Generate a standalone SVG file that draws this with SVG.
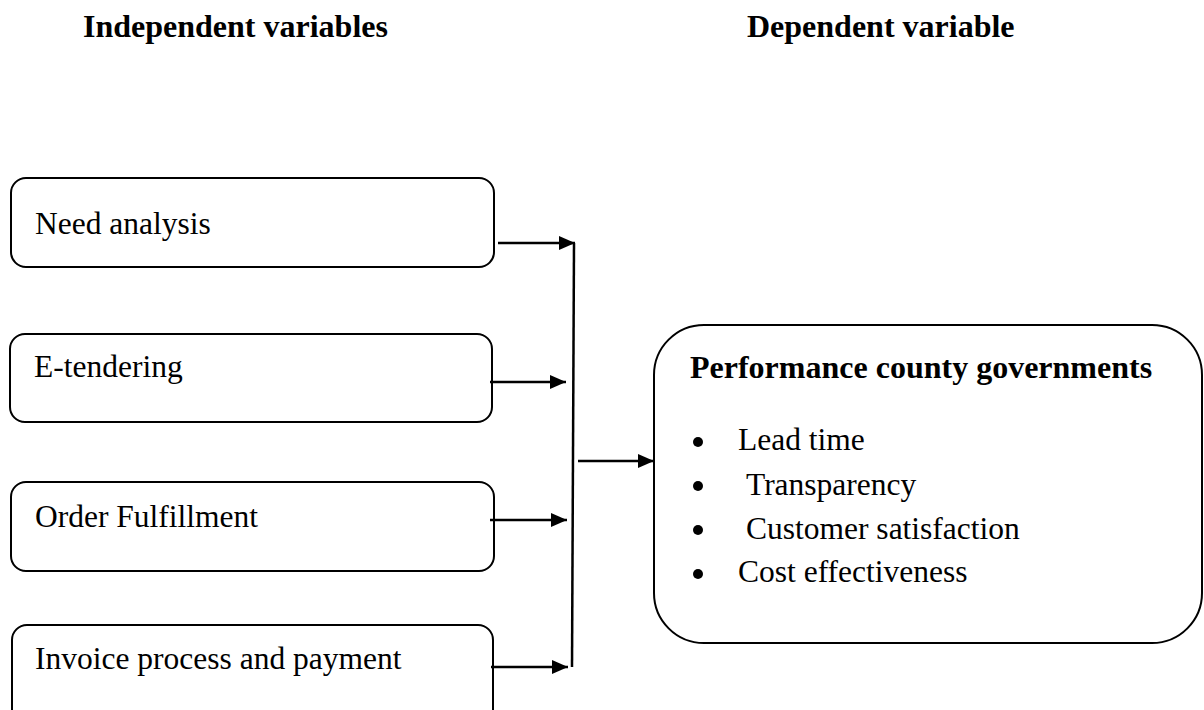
<svg xmlns="http://www.w3.org/2000/svg" width="1204" height="710" viewBox="0 0 1204 710">
<defs>
<style>
.box{fill:#fff;stroke:#000;stroke-width:2}
.t{font-family:"Liberation Serif","Times New Roman",serif;font-size:31.5px;fill:#000}
.b{font-family:"Liberation Serif","Times New Roman",serif;font-size:32px;font-weight:bold;fill:#000}
.c{stroke:#000;stroke-width:2.5;fill:none}
</style>
<marker id="ah" viewBox="0 0 16 14" refX="16" refY="7" markerWidth="16" markerHeight="14" markerUnits="userSpaceOnUse" orient="auto">
<path d="M0,0 L16,7 L0,14 z" fill="#000"/>
</marker>
</defs>
<rect width="1204" height="710" fill="#fff"/>
<g id="headers">
<text class="b" x="83" y="37">Independent variables</text>
<text class="b" x="747" y="37">Dependent variable</text>
</g>
<g id="need-analysis">
<rect class="box" x="11" y="178" width="483" height="89" rx="15"/>
<text class="t" x="35" y="234">Need analysis</text>
</g>
<g id="e-tendering">
<rect class="box" x="10" y="334" width="482" height="88" rx="15"/>
<text class="t" x="34" y="377">E-tendering</text>
</g>
<g id="order-fulfillment">
<rect class="box" x="11" y="482" width="483" height="89" rx="15"/>
<text class="t" x="35" y="527">Order Fulfillment</text>
</g>
<g id="invoice">
<rect class="box" x="12" y="625" width="481" height="100" rx="15"/>
<text class="t" x="35" y="669">Invoice process and payment</text>
</g>
<g id="performance">
<rect class="box" x="654" y="325" width="548" height="318" rx="50"/>
<text class="b" x="690" y="378">Performance county governments</text>
<g class="t">
<circle cx="698" cy="442" r="5"/>
<text x="738" y="450">Lead time</text>
<circle cx="698" cy="486" r="5"/>
<text x="746" y="495">Transparency</text>
<circle cx="698" cy="530" r="5"/>
<text x="746" y="539">Customer satisfaction</text>
<circle cx="698" cy="574" r="5"/>
<text x="738" y="582">Cost effectiveness</text>
</g>
</g>
<g id="connectors">
<line class="c" x1="574" y1="243" x2="572" y2="667"/>
<line class="c" x1="498" y1="243" x2="575" y2="243" marker-end="url(#ah)"/>
<line class="c" x1="490" y1="382" x2="566" y2="382" marker-end="url(#ah)"/>
<line class="c" x1="490" y1="520" x2="567" y2="520" marker-end="url(#ah)"/>
<line class="c" x1="491" y1="667" x2="568" y2="667" marker-end="url(#ah)"/>
<line class="c" x1="578" y1="461" x2="654" y2="461" marker-end="url(#ah)"/>
</g>
</svg>
